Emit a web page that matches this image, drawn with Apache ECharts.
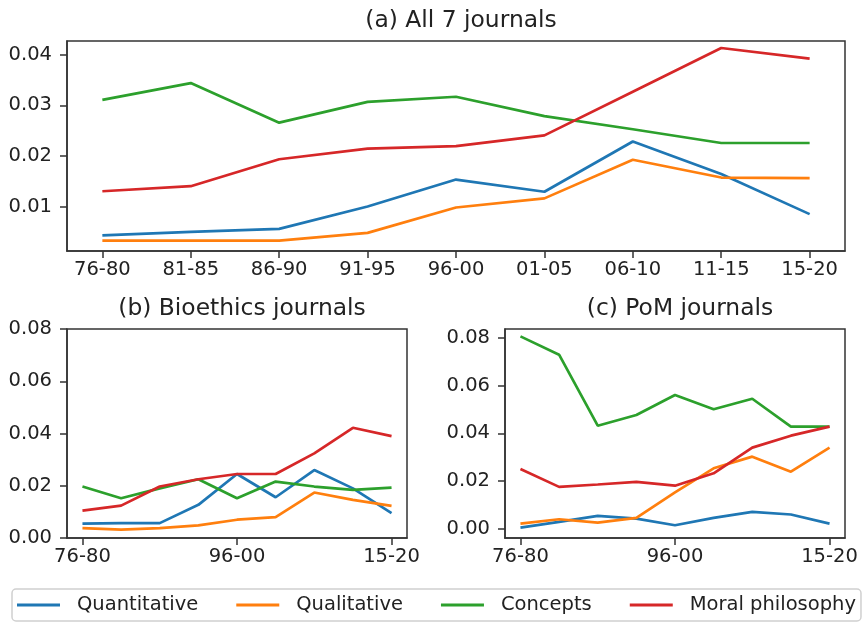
<!DOCTYPE html>
<html>
<head>
<meta charset="utf-8">
<script src="https://cdn.jsdelivr.net/npm/echarts@6/dist/echarts.min.js"></script>
<style>
  html, body { margin: 0; padding: 0; background: #fff; }
  #main { width: 862px; height: 624px; }
</style>
</head>
<body>
<div id="main"></div>
<script>
const periods = ['76-80', '81-85', '86-90', '91-95', '96-00', '01-05', '06-10', '11-15', '15-20']
const seriesNames = ['Quantitative', 'Qualitative', 'Concepts', 'Moral philosophy']
const colors = ['#1f77b4', '#ff7f0e', '#2ca02c', '#d62728']

// (a) All 7 journals
const allQuant = [0.0044, 0.0051, 0.0057, 0.0101, 0.0154, 0.0130, 0.0229, 0.0165, 0.0086]
const allQual = [0.0034, 0.0034, 0.0034, 0.0049, 0.0099, 0.0117, 0.0193, 0.0158, 0.0157]
const allConc = [0.0311, 0.0344, 0.0266, 0.0307, 0.0317, 0.0279, 0.0253, 0.0226, 0.0226]
const allMoral = [0.0131, 0.0141, 0.0194, 0.0215, 0.0220, 0.0241, 0.0327, 0.0413, 0.0392]

// (b) Bioethics journals
const bioQuant = [0.0055, 0.0057, 0.0057, 0.0127, 0.0245, 0.0156, 0.0260, 0.0190, 0.0095]
const bioQual = [0.0038, 0.0032, 0.0038, 0.0048, 0.0070, 0.0080, 0.0174, 0.0146, 0.0123]
const bioConc = [0.0197, 0.0152, 0.0190, 0.0225, 0.0152, 0.0216, 0.0197, 0.0184, 0.0193]
const bioMoral = [0.0105, 0.0124, 0.0197, 0.0225, 0.0245, 0.0245, 0.0324, 0.0422, 0.0390]

// (c) PoM journals
const pomQuant = [0.0004, 0.0028, 0.0053, 0.0042, 0.0014, 0.0045, 0.0070, 0.0059, 0.0021]
const pomQual = [0.0021, 0.0039, 0.0025, 0.0045, 0.0152, 0.0253, 0.0302, 0.0239, 0.0340]
const pomConc = [0.0807, 0.0730, 0.0432, 0.0477, 0.0561, 0.0501, 0.0545, 0.0428, 0.0428]
const pomMoral = [0.0250, 0.0175, 0.0185, 0.0196, 0.0180, 0.0232, 0.0340, 0.0390, 0.0428]

const panelTitles = ['(a) All 7 journals', '(b) Bioethics journals', '(c) PoM journals']
const panelData = [
  [allQuant, allQual, allConc, allMoral],
  [bioQuant, bioQual, bioConc, bioMoral],
  [pomQuant, pomQual, pomConc, pomMoral]
]
const xTicks = [[0, 1, 2, 3, 4, 5, 6, 7, 8], [0, 4, 8], [0, 4, 8]]
const yTicks = [[0.01, 0.02, 0.03, 0.04], [0, 0.02, 0.04, 0.06, 0.08], [0, 0.02, 0.04, 0.06, 0.08]]
const yRange = [[0.00134, 0.04268], [0, 0.08], [-0.00396, 0.08379]]

const font = 'DejaVu Sans'
const ink = '#222'
const axisColor = '#333'

let myChart = echarts.init(document.getElementById('main'))

let grids = [
  { left: 67, top: 41, width: 778, height: 210 },
  { left: 67, top: 329, width: 340, height: 209 },
  { left: 505, top: 329, width: 340, height: 209 }
]

let xAxes = []
let yAxes = []
let series = []
for (let p = 0; p < 3; p++) {
  grids[p].show = true
  grids[p].borderColor = axisColor
  grids[p].borderWidth = 1.5
  grids[p].outerBoundsMode = 'none'
  xAxes.push({
    type: 'value',
    gridIndex: p,
    min: -0.4,
    max: 8.4,
    splitLine: { show: false },
    axisLine: { show: true, onZero: false, lineStyle: { color: axisColor, width: 1.5 } },
    axisTick: { show: true, length: 7, customValues: xTicks[p], lineStyle: { color: axisColor, width: 1.5 } },
    axisLabel: {
      customValues: xTicks[p],
      formatter: function (v) { return periods[Math.round(v)] },
      color: ink,
      fontFamily: font,
      fontSize: 19.5,
      margin: 9
    }
  })
  yAxes.push({
    type: 'value',
    gridIndex: p,
    min: yRange[p][0],
    max: yRange[p][1],
    splitLine: { show: false },
    axisLine: { show: true, onZero: false, lineStyle: { color: axisColor, width: 1.5 } },
    axisTick: { show: true, length: 7, customValues: yTicks[p], lineStyle: { color: axisColor, width: 1.5 } },
    axisLabel: {
      customValues: yTicks[p],
      formatter: function (v) { return v.toFixed(2) },
      color: ink,
      fontFamily: font,
      fontSize: 19.5,
      margin: 15
    }
  })
  for (let s = 0; s < 4; s++) {
    series.push({
      name: seriesNames[s],
      type: 'line',
      xAxisIndex: p,
      yAxisIndex: p,
      symbol: 'none',
      silent: true,
      lineStyle: { width: 2.7, color: colors[s] },
      itemStyle: { color: colors[s] },
      data: panelData[p][s].map(function (v, i) { return [i, v] })
    })
  }
}

let option = {
  backgroundColor: '#fff',
  animation: false,
  color: colors,
  title: [
    { text: panelTitles[0], left: 456, top: 4, textAlign: 'center' },
    { text: panelTitles[1], left: 237, top: 292, textAlign: 'center' },
    { text: panelTitles[2], left: 675, top: 292, textAlign: 'center' }
  ].map(function (t) {
    t.textStyle = { color: ink, fontFamily: font, fontSize: 23.4, fontWeight: 'normal' }
    return t
  }),
  legend: {
    data: seriesNames,
    left: 12,
    top: 589,
    width: 1000,
    orient: 'horizontal',
    icon: 'rect',
    itemWidth: 43,
    itemHeight: 3,
    itemGap: 38,
    padding: [6, 5, 6, 5],
    borderColor: '#d0d0d0',
    borderWidth: 1.5,
    borderRadius: 4,
    textStyle: {
      color: ink,
      fontFamily: font,
      fontSize: 19.5,
      padding: [0, 0, 0, 12]
    }
  },
  grid: grids,
  xAxis: xAxes,
  yAxis: yAxes,
  series: series
}
myChart.setOption(option)
</script>
</body>
</html>
